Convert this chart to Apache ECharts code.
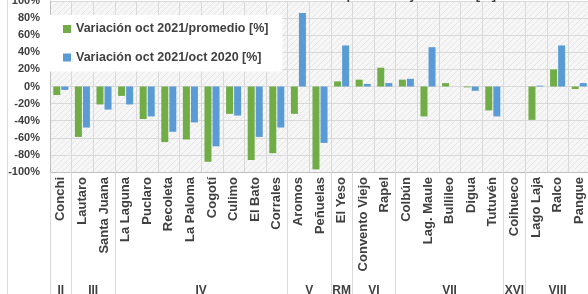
<!DOCTYPE html>
<html>
<head>
<meta charset="utf-8">
<script src="https://cdn.jsdelivr.net/npm/echarts@6/dist/echarts.min.js"></script>
<style>
  html, body { margin: 0; padding: 0; background: #fff; }
  #chart { width: 588px; height: 294px; }
</style>
</head>
<body>
<div id="chart"></div>
<script>
  // embalses y region
  const categories = ['Conchi', 'Lautaro', 'Santa Juana', 'La Laguna', 'Puclaro', 'Recoleta', 'La Paloma', 'Cogotí',
    'Culimo', 'El Bato', 'Corrales', 'Aromos', 'Peñuelas', 'El Yeso', 'Convento Viejo', 'Rapel', 'Colbún',
    'Lag. Maule', 'Bullileo', 'Digua', 'Tutuvén', 'Coihueco', 'Lago Laja', 'Ralco', 'Pangue']
  const varPromedio = [-10, -59, -21, -11, -38, -65, -62, -88, -32, -86, -78, -32, -97, 6, 8, 22, 8, -35, 4, -1, -28, null, -39, 20, -3]
  const varOct2020 = [-4, -48, -27, -21, -35, -53, -42, -70, -34, -59, -48, 86, -66, 48, 3, 4, 9, 46, 0, -5, -35, null, 1, 48, 4]
  const regiones = ['II', 'III', 'IV', 'V', 'RM', 'VI', 'VII', 'XVI', 'VIII']
  const regionSizes = [1, 2, 8, 2, 1, 2, 5, 1, 3]

  // límites y centros de cada región en unidades de categoría
  const bounds = [0]
  regionSizes.forEach(n => bounds.push(bounds[bounds.length - 1] + n))
  const centers = regionSizes.map((n, i) => bounds[i] + n / 2)

  // relleno tramado del área de trazado
  function hatch() {
    const c = document.createElement('canvas')
    c.width = 6
    c.height = 6
    const ctx = c.getContext('2d')
    ctx.fillStyle = '#f6f6f6'
    ctx.fillRect(0, 0, 6, 6)
    ctx.strokeStyle = '#e6e6e6'
    ctx.lineWidth = 1
    ctx.beginPath()
    ctx.moveTo(0, 6)
    ctx.lineTo(6, 0)
    ctx.stroke()
    return c
  }

  const font = 'Liberation Sans, Arial, sans-serif'
  const chart = echarts.init(document.getElementById('chart'))

  chart.setOption({
    animation: false,
    backgroundColor: '#fff',
    textStyle: { fontFamily: font },
    title: {
      text: 'Variación vs promedio y oct 2020 [%]',
      left: 262,
      top: -16,
      textStyle: { fontSize: 13, fontWeight: 'bold', color: '#404040', fontFamily: font }
    },
    legend: {
      orient: 'vertical',
      left: 50,
      top: 15,
      padding: [6, 14, 6, 13],
      itemGap: 12.5,
      itemWidth: 8,
      itemHeight: 8,
      icon: 'rect',
      backgroundColor: '#fff',
      textStyle: { fontSize: 12.5, fontWeight: 'bold', color: '#404040', lineHeight: 16, fontFamily: font },
      data: ['Variación oct 2021/promedio [%]', 'Variación oct 2021/oct 2020 [%]']
    },
    grid: {
      left: 50,
      right: -2,
      top: 1,
      bottom: 122,
      outerBoundsMode: 'none',
      show: true,
      borderWidth: 0,
      backgroundColor: { image: hatch(), repeat: 'repeat' }
    },
    xAxis: [
      {
        type: 'category',
        data: categories,
        axisLine: { onZero: false, lineStyle: { color: '#bfbfbf' } },
        // separadores de región que bajan hasta el borde
        axisTick: {
          show: true,
          length: 122,
          interval: (i) => bounds.includes(i),
          lineStyle: { color: '#d9d9d9' }
        },
        splitLine: { show: true, interval: 0, lineStyle: { color: '#d9d9d9' } },
        axisLabel: {
          interval: 0,
          rotate: 90,
          margin: 5,
          fontSize: 13,
          fontWeight: 'bold',
          color: '#404040',
          fontFamily: font
        }
      },
      {
        type: 'value',
        min: 0,
        max: categories.length,
        position: 'bottom',
        offset: 108,
        axisLine: { show: false },
        splitLine: { show: false },
        axisTick: { show: false },
        axisLabel: {
          margin: 5,
          customValues: centers,
          formatter: v => regiones[centers.indexOf(v)],
          fontSize: 12,
          fontWeight: 'bold',
          color: '#404040',
          fontFamily: font
        }
      }
    ],
    yAxis: {
      type: 'value',
      min: -100,
      max: 100,
      interval: 20,
      axisLine: { show: true, lineStyle: { color: '#bfbfbf' } },
      axisTick: { show: false },
      splitLine: { lineStyle: { color: '#d9d9d9' } },
      axisLabel: {
        formatter: '{value}%',
        margin: 10,
        fontSize: 11,
        fontWeight: 'bold',
        color: '#404040',
        fontFamily: font
      }
    },
    graphic: [
      { type: 'line', shape: { x1: 7.5, y1: 0, x2: 7.5, y2: 294 }, style: { stroke: '#d9d9d9', lineWidth: 1 }, silent: true }
    ],
    series: [
      {
        name: 'Variación oct 2021/promedio [%]',
        type: 'bar',
        barWidth: 7,
        barGap: '15%',
        itemStyle: { color: '#70ad47' },
        data: varPromedio
      },
      {
        name: 'Variación oct 2021/oct 2020 [%]',
        type: 'bar',
        barWidth: 7,
        itemStyle: { color: '#5b9bd5' },
        data: varOct2020
      }
    ]
  })
</script>
</body>
</html>
